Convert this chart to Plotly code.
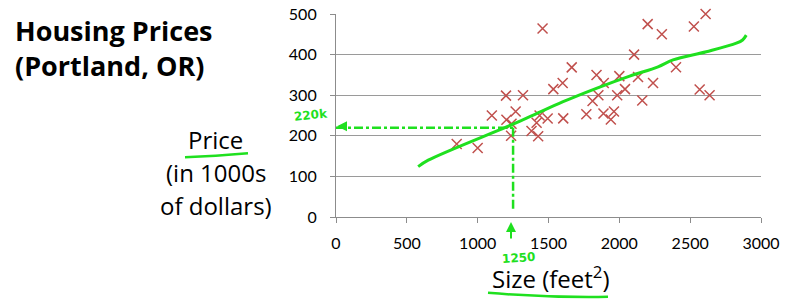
import plotly.graph_objects as go

# ---------------- data ----------------
size_sqft = [2104, 1600, 2400, 1416, 1985, 1534, 1427, 1380, 1494, 1940, 2000, 1890,
             1268, 2300, 1320, 1236, 2609, 1767, 1888, 1604, 1962, 1100, 1458, 2526,
             2200, 2637, 1839, 1000, 2040, 1811, 1437, 1239, 2132, 2162, 1664, 2238,
             2567, 1200, 852, 1852, 1203]
price_k = [399.9, 329.9, 369.0, 232.0, 299.9, 314.9, 199.0, 212.0, 242.5, 240.0, 347.0, 330.0,
           259.9, 449.9, 299.9, 199.9, 500.0, 252.9, 255.0, 242.9, 259.9, 249.9, 464.5, 469.0,
           475.0, 299.9, 349.9, 169.9, 314.9, 285.9, 249.9, 229.9, 345.0, 287.0, 368.5, 329.9,
           314.0, 299.0, 179.9, 299.9, 239.5]

fit_size = [580, 651, 1204, 1368, 1603, 1838, 2073, 2273, 2379, 2614, 2826, 2870, 2896]
fit_price = [124, 140, 222, 247, 284, 317, 347, 370, 387, 407, 428, 436, 448]

guide_size = 1250
guide_price = 220
guide_low = 18

x_ticks = [0, 500, 1000, 1500, 2000, 2500, 3000]
y_ticks = [0, 100, 200, 300, 400, 500]

# ---------------- layout helpers (pixel -> paper) ----------------
L, R, T, B = 336, 761, 13.5, 217
W, H = 800, 304
def px(xp):
    return (xp - L) / (R - L)
def py(yp):
    return (B - yp) / (B - T)

GREEN = "#1fe01f"
RED = "#c0504d"
FONT = "Lato"
LABEL_FONT = "Open Sans"
HAND = "DejaVu Sans"

fig = go.Figure()

fig.add_trace(go.Scatter(x=size_sqft, y=price_k, mode="markers",
                         marker=dict(symbol="x-thin-open", size=10, color=RED,
                                     line=dict(color=RED, width=1.5)),
                         hoverinfo="skip", showlegend=False, cliponaxis=False))

fig.add_trace(go.Scatter(x=fit_size, y=fit_price, mode="lines",
                         line=dict(color=GREEN, width=3, shape="spline"),
                         hoverinfo="skip", showlegend=False))

# dashed guides
fig.add_trace(go.Scatter(x=[0, guide_size], y=[guide_price, guide_price], mode="lines",
                         line=dict(color=GREEN, width=2.5, dash="dashdot"),
                         hoverinfo="skip", showlegend=False))
fig.add_trace(go.Scatter(x=[guide_size, guide_size], y=[guide_price, guide_low], mode="lines",
                         line=dict(color=GREEN, width=2.5, dash="dashdot"),
                         hoverinfo="skip", showlegend=False))

annots = []
# upward arrow below the x axis at the guide size
annots.append(dict(x=px(511), y=py(222), xref="paper", yref="paper",
                   ax=0, ay=18, showarrow=True, arrowhead=2, arrowsize=1,
                   arrowwidth=2, arrowcolor=GREEN, text=""))
# small left arrow head at the y axis
annots.append(dict(x=px(337), y=py(126), xref="paper", yref="paper",
                   ax=8, ay=0, showarrow=True, arrowhead=2, arrowsize=1,
                   arrowwidth=2, arrowcolor=GREEN, text=""))
annots.append(dict(x=px(311), y=py(115), xref="paper", yref="paper", text="<b>220k</b>",
                   showarrow=False, xanchor="center", yanchor="middle",
                   font=dict(family=HAND, size=12, color=GREEN), textangle=-6))
annots.append(dict(x=px(518), y=py(258), xref="paper", yref="paper", text="<b>1250</b>",
                   showarrow=False, xanchor="center", yanchor="middle",
                   font=dict(family=HAND, size=12, color=GREEN), textangle=-4))

def label(text, xc, yc, size, family, anchor="center"):
    return dict(x=px(xc), y=py(yc), xref="paper", yref="paper", text=text,
                showarrow=False, xanchor=anchor, yanchor="middle",
                font=dict(family=family, size=size, color="black"),
                align="left" if anchor == "left" else "center")

annots.append(label("<b>Housing Prices</b><br><b>(Portland, OR)</b>", 13, 48, 27,
                    LABEL_FONT, anchor="left"))
annots.append(label("Price", 215, 139, 24, LABEL_FONT))
annots.append(label("(in 1000s", 216, 172, 24, LABEL_FONT))
annots.append(label("of dollars)", 216, 205, 24, LABEL_FONT))
annots.append(label("Size (feet<sup>2</sup>)", 551, 278, 24, LABEL_FONT))

shapes = [
    dict(type="path", xref="paper", yref="paper",
         path=f"M {px(185)},{py(157)} Q {px(215)},{py(156)} {px(248)},{py(153)}",
         line=dict(color=GREEN, width=2.5)),
    dict(type="path", xref="paper", yref="paper",
         path=f"M {px(488)},{py(293)} Q {px(550)},{py(298)} {px(608)},{py(297)}",
         line=dict(color=GREEN, width=2.5)),
]

fig.update_layout(
    width=W, height=H,
    margin=dict(l=L, r=W - R, t=T, b=H - B, pad=0, autoexpand=False),
    paper_bgcolor="white", plot_bgcolor="white",
    font=dict(family=FONT, size=16, color="black"),
    annotations=annots, shapes=shapes, showlegend=False,
    xaxis=dict(range=[0, 3000], tickvals=x_ticks, showgrid=False, zeroline=False,
               showline=True, linecolor="#8c8c8c", linewidth=1.2, ticks="outside",
               ticklen=5, tickcolor="#8c8c8c", tickfont=dict(size=16),
               ticklabelstandoff=7, fixedrange=True, automargin=False),
    yaxis=dict(range=[0, 500], tickvals=y_ticks, showgrid=True, gridcolor="#9a9a9a",
               gridwidth=1.2, zeroline=False, showline=True, linecolor="#8c8c8c",
               linewidth=1.2, ticks="outside", ticklen=5, tickcolor="#8c8c8c",
               tickfont=dict(size=16), ticklabelstandoff=10, fixedrange=True,
               automargin=False),
)

fig.write_html("out.html")
